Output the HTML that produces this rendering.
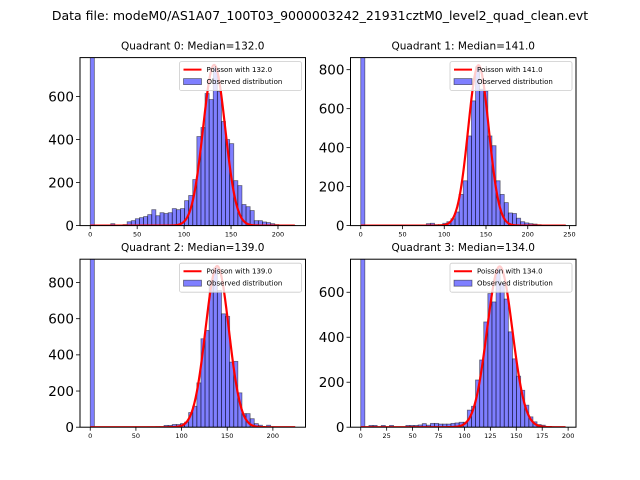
<!DOCTYPE html>
<html><head><meta charset="utf-8"><style>
body{margin:0;background:#fff;}
svg{display:block;font-family:"DejaVu Sans","Liberation Sans",sans-serif;}
</style></head><body>
<svg id="fig" width="640" height="480" viewBox="0 0 640 480" xmlns="http://www.w3.org/2000/svg">
<rect width="640" height="480" fill="#fff"/>
<text x="320" y="20" text-anchor="middle" font-size="12.5" fill="#000">Data file: modeM0/AS1A07_100T03_9000003242_21931cztM0_level2_quad_clean.evt</text>
</svg>
<script>
const medians = [132.0, 141.0, 139.0, 134.0];
const dataMax = [218.4, 245.5, 224.5, 197.7];
const yLimits = [781, 862, 929, 747];
const yTicks0 = [0, 200, 400, 600];
const yTicks1 = [0, 200, 400, 600, 800];
const yTicks2 = [0, 200, 400, 600, 800];
const yTicks3 = [0, 200, 400, 600];
const xTicks0 = [0, 50, 100, 150, 200];
const xTicks1 = [0, 50, 100, 150, 200, 250];
const xTicks2 = [0, 50, 100, 150, 200];
const xTicks3 = [0, 25, 50, 75, 100, 125, 150, 175, 200];
const curvePeak = [747, 823, 891, 715];
const curveSigma = [11.8, 12.3, 12.8, 12.2];
const counts0 = [2000,0,0,0,0,9,3,3,5,18,23,32,37,42,51,74,46,60,56,60,79,74,79,116,140,214,414,456,614,586,735,624,484,400,381,209,186,98,88,70,23,23,17,14,9,5,3,2,1,1];
const counts1 = [2000,0,0,0,0,0,0,0,0,0,0,0,0,0,0,0,10,12,5,5,12,20,35,70,160,230,460,640,815,700,690,460,410,230,160,118,65,62,38,20,14,10,8,5,3,2,1,1,0,1];
const counts2 = [2000,0,0,0,0,0,0,0,0,0,0,0,0,0,2,2,3,3,10,10,15,15,20,28,81,116,245,489,535,802,880,756,627,613,360,364,190,75,75,47,20,11,3,11,2,0,0,0,0,0];
const counts3 = [2000,0,8,8,0,8,0,8,0,0,0,8,8,8,10,16,9,17,17,14,14,14,17,19,22,22,76,93,210,299,468,594,557,705,640,570,424,304,227,164,98,46,24,12,9,3,2,0,0,0];

const allCounts = [counts0, counts1, counts2, counts3];
const allYTicks = [yTicks0, yTicks1, yTicks2, yTicks3];
const allXTicks = [xTicks0, xTicks1, xTicks2, xTicks3];
const layout = [{l:80,t:57.6},{l:350.5,t:57.6},{l:80,t:259.2},{l:350.5,t:259.2}];
const W = 225.5, H = 168;
const NS = "http://www.w3.org/2000/svg";
const svg = document.getElementById('fig');
function mk(tag, attrs, parent){const e=document.createElementNS(NS,tag);for(const k in attrs)e.setAttribute(k,attrs[k]);(parent||svg).appendChild(e);return e;}

for (let q=0;q<4;q++){
  const L=layout[q].l, T=layout[q].t, B=T+H;
  const range=dataMax[q], xmin=-0.05*range, xmax=1.05*range;
  const xs=v=>L+(v-xmin)/(xmax-xmin)*W;
  const ys=v=>B-v/yLimits[q]*H;
  const g=mk('g',{});
  
  
  const cp=mk('clipPath',{id:'clip'+q},g);
  mk('rect',{x:L,y:T,width:W,height:H},cp);
  const title=mk('text',{x:L+W/2,y:T-8,'text-anchor':'middle','font-size':'10.5',fill:'#000'},g);
  title.textContent='Quadrant '+q+': Median='+medians[q].toFixed(1);
  
  
  const bars=mk('g',{'clip-path':'url(#clip'+q+')'},g);
  const counts=allCounts[q], bw=range/counts.length;
  counts.forEach((c,i)=>{
    if(c<=0) return;
    const x0=xs(i*bw), x1=xs((i+1)*bw);
    const r=mk('rect',{x:x0,y:ys(c),width:x1-x0,height:B-ys(c),fill:'#0000ff','fill-opacity':0.5,stroke:'#000','stroke-opacity':0.5,'stroke-width':0.8},bars);
    
    
  });
  let d='';
  for(let v=0;v<=range;v+=0.5){
    const val=curvePeak[q]*Math.exp(-Math.pow(v-medians[q],2)/(2*curveSigma[q]*curveSigma[q]));
    d+=(v===0?'M':'L')+xs(v).toFixed(2)+','+ys(val).toFixed(2);
  }
  const cur=mk('path',{d:d,fill:'none',stroke:'#ff0000','stroke-width':2.2,'clip-path':'url(#clip'+q+')'},g);
  
  
  const frame=mk('rect',{x:L,y:T,width:W,height:H,fill:'none',stroke:'#000','stroke-width':1},g);
  
  
  allYTicks[q].forEach(t=>{
    const y=ys(t);
    mk('line',{x1:L-4,x2:L,y1:y,y2:y,stroke:'#000','stroke-width':0.8},g);
    const tx=mk('text',{x:L-6,y:y+4.8,'text-anchor':'end','font-size':'13.5',fill:'#000'},g);
    tx.textContent=t;
    
    
  });
  allXTicks[q].forEach(t=>{
    const x=xs(t);
    mk('line',{x1:x,x2:x,y1:B,y2:B+3.5,stroke:'#000','stroke-width':0.8},g);
    const tx=mk('text',{x:x,y:B+11,'text-anchor':'middle','font-size':'6.5',fill:'#000'},g);
    tx.textContent=t;
    
    
  });
  const lg=mk('g',{},g);
  
  
  const lx=L+W-126, ly=T+4;
  mk('rect',{x:lx,y:ly,width:122,height:29,rx:2,fill:'#fff','fill-opacity':0.8,stroke:'#ccc','stroke-width':0.8},lg);
  mk('line',{x1:lx+4,x2:lx+22,y1:ly+8,y2:ly+8,stroke:'#ff0000','stroke-width':2},lg);
  const t1=mk('text',{x:lx+27,y:ly+10.5,'font-size':'7',fill:'#000'},lg);
  t1.textContent='Poisson with '+medians[q].toFixed(1);
  
  
  mk('rect',{x:lx+4,y:ly+17,width:18,height:6,fill:'#0000ff','fill-opacity':0.5,stroke:'#000','stroke-opacity':0.5,'stroke-width':0.8},lg);
  const t2=mk('text',{x:lx+27,y:ly+22.5,'font-size':'7',fill:'#000'},lg);
  t2.textContent='Observed distribution';
  
  
}
</script>
</body></html>
